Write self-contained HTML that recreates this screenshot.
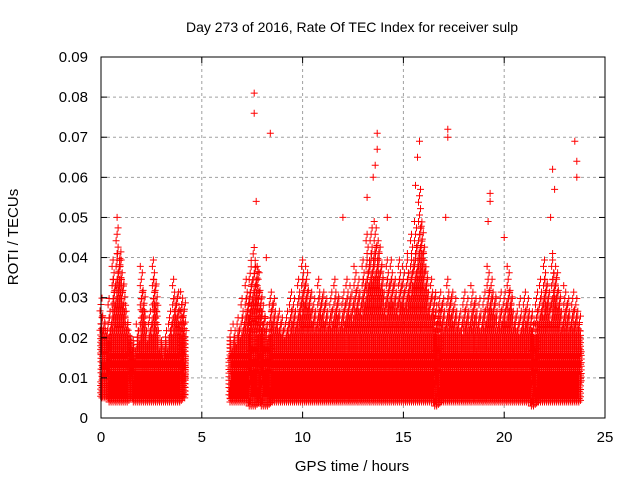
<!DOCTYPE html>
<html><head><meta charset="utf-8"><style>
body{margin:0;background:#fff}
svg{font-family:"Liberation Sans","DejaVu Sans",sans-serif}
</style></head><body>
<svg id="chart" width="640" height="480" viewBox="0 0 640 480">
<rect width="640" height="480" fill="#fff"/>
<g id="grid"></g>
<g id="marks"></g>
<rect x="101" y="57" width="504" height="361" fill="none" stroke="#000" stroke-width="1"/>
<g id="axes"></g>
<text x="352" y="32" text-anchor="middle" font-size="14">Day 273 of 2016, Rate Of TEC Index for receiver sulp</text>
<text x="352" y="471" text-anchor="middle" font-size="15">GPS time / hours</text>
<text transform="translate(18,237) rotate(-90)" text-anchor="middle" font-size="15">ROTI / TECUs</text>
</svg>
<script>
const xTicks=[0,5,10,15,20,25];
const yTicks=[0,0.01,0.02,0.03,0.04,0.05,0.06,0.07,0.08,0.09];
const yTickLabels=["0","0.01","0.02","0.03","0.04","0.05","0.06","0.07","0.08","0.09"];
const binTimes=[0,0.2,0.4,0.6,0.8,1.0,1.2,1.4,1.6,1.8,2.0,2.2,2.4,2.6,2.8,3.0,3.2,3.4,3.6,3.8,4.0,
6.4,6.6,6.8,7.0,7.2,7.4,7.6,7.8,8.0,8.2,8.4,8.6,8.8,9.0,9.2,9.4,9.6,9.8,10.0,10.2,10.4,10.6,10.8,11.0,11.2,11.4,11.6,11.8,12.0,12.2,12.4,12.6,12.8,13.0,13.2,13.4,13.6,13.8,14.0,14.2,14.4,14.6,14.8,15.0,15.2,15.4,15.6,15.8,16.0,16.2,16.4,16.6,16.8,17.0,17.2,17.4,17.6,17.8,18.0,18.2,18.4,18.6,18.8,19.0,19.2,19.4,19.6,19.8,20.0,20.2,20.4,20.6,20.8,21.0,21.2,21.4,21.6,21.8,22.0,22.2,22.4,22.6,22.8,23.0,23.2,23.4,23.6];
const binMax=[0.03,0.025,0.03,0.04,0.048,0.04,0.028,0.022,0.02,0.025,0.038,0.025,0.028,0.04,0.022,0.02,0.022,0.028,0.035,0.032,0.033,
0.022,0.024,0.026,0.03,0.035,0.04,0.044,0.038,0.03,0.026,0.033,0.03,0.028,0.026,0.028,0.032,0.03,0.035,0.04,0.038,0.032,0.03,0.035,0.033,0.03,0.032,0.036,0.03,0.033,0.035,0.034,0.038,0.036,0.04,0.046,0.048,0.05,0.045,0.036,0.04,0.04,0.035,0.04,0.038,0.042,0.046,0.05,0.057,0.044,0.036,0.035,0.032,0.033,0.03,0.035,0.032,0.03,0.028,0.032,0.03,0.034,0.03,0.03,0.032,0.038,0.035,0.03,0.032,0.033,0.038,0.03,0.028,0.03,0.032,0.03,0.028,0.032,0.036,0.04,0.033,0.042,0.038,0.03,0.034,0.03,0.032,0.03];
const binMin=[0.005,0.005,0.004,0.004,0.004,0.004,0.004,0.005,0.004,0.004,0.004,0.004,0.004,0.004,0.004,0.004,0.004,0.004,0.004,0.004,0.005,
0.004,0.004,0.004,0.004,0.004,0.003,0.003,0.004,0.003,0.003,0.004,0.004,0.004,0.004,0.004,0.004,0.004,0.004,0.004,0.004,0.004,0.004,0.004,0.004,0.004,0.004,0.004,0.004,0.004,0.004,0.004,0.004,0.004,0.004,0.004,0.004,0.004,0.004,0.004,0.004,0.004,0.004,0.004,0.004,0.004,0.004,0.004,0.004,0.004,0.004,0.004,0.003,0.004,0.004,0.004,0.004,0.004,0.004,0.004,0.004,0.004,0.004,0.004,0.004,0.004,0.004,0.004,0.004,0.004,0.004,0.004,0.004,0.004,0.004,0.004,0.003,0.004,0.004,0.004,0.004,0.004,0.004,0.004,0.004,0.004,0.004,0.004];
const outT=[7.6,7.6,8.4,7.7,13.7,13.7,13.6,15.8,15.7,17.2,17.2,19.3,19.3,22.4,22.5,23.5,23.6,23.6,13.2,20.0,0.8,12.0,14.2,15.6,13.5,22.3,19.2,8.2,17.1];
const outV=[0.081,0.076,0.071,0.054,0.071,0.067,0.063,0.069,0.065,0.072,0.070,0.056,0.054,0.062,0.057,0.069,0.064,0.060,0.055,0.045,0.050,0.050,0.050,0.058,0.060,0.050,0.049,0.040,0.050];
const NS="http://www.w3.org/2000/svg";
const x=t=>101+t*20.16, y=v=>418-v*4011.1;
const grid=document.getElementById('grid'),axes=document.getElementById('axes'),marks=document.getElementById('marks');
function mk(tag,at,p){const e=document.createElementNS(NS,tag);for(const k in at)e.setAttribute(k,at[k]);p.appendChild(e);return e;}
xTicks.forEach((t,i)=>{
 if(i>0&&i<xTicks.length-1){const g=mk('line',{x1:x(t),x2:x(t),y1:57,y2:418,stroke:'#a0a0a0','stroke-dasharray':'3,3'},grid);
 }
 mk('line',{x1:x(t),x2:x(t),y1:418,y2:412,stroke:'#000'},axes);mk('line',{x1:x(t),x2:x(t),y1:57,y2:63,stroke:'#000'},axes);
 const l=mk('text',{x:x(t),y:442,'text-anchor':'middle','font-size':15},axes);l.textContent=t;
 
});
yTicks.forEach((v,i)=>{
 if(i>0&&i<yTicks.length-1){const g=mk('line',{x1:101,x2:605,y1:y(v),y2:y(v),stroke:'#a0a0a0','stroke-dasharray':'3,3'},grid);
 }
 mk('line',{x1:101,x2:107,y1:y(v),y2:y(v),stroke:'#000'},axes);mk('line',{x1:605,x2:599,y1:y(v),y2:y(v),stroke:'#000'},axes);
 const l=mk('text',{x:88,y:y(v)+5,'text-anchor':'end','font-size':15},axes);l.textContent=yTickLabels[i];
 
});
let d='';
function cross(cx,cy){d+=`M${(cx-3.5).toFixed(1)} ${cy.toFixed(1)}h7M${cx.toFixed(1)} ${(cy-3.5).toFixed(1)}v7`;}
binTimes.forEach((t,i)=>{
 const lo=binMin[i],hi=binMax[i];
 for(let c=0;c<6;c++){
  const tx=x(t+c*0.034);
  const top=lo+(hi-lo)*(c%2?0.7:(c%3?0.85:1));
  let v=lo+(c%3)*0.0004;
  while(v<=top){ cross(tx+(((v*10000)|0)%3)-1,y(v)); v+= v<0.02?0.0009:0.0016; }
 }
});
outT.forEach((t,i)=>cross(x(t),y(outV[i])));
const p=mk('path',{d:d,stroke:'#ff0000','stroke-width':1,fill:'none'},marks);


</script>
</body></html>
